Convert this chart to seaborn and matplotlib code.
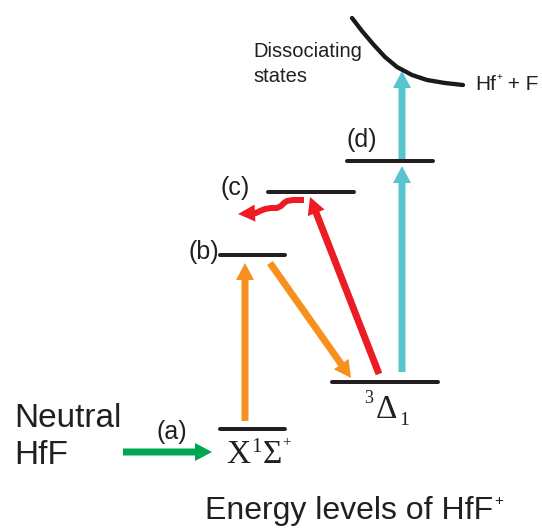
import numpy as np
import pandas as pd
import matplotlib
matplotlib.use("Agg")
import matplotlib.pyplot as plt
from matplotlib.patches import FancyArrowPatch
import seaborn as sns

# ---- data (positions in image coordinates, y grows downward = lower energy) ----
level_names = ["X", "b", "c", "d", "Delta"]
level_y = [429, 255, 192, 161, 382]
level_x0 = [220, 220, 268, 347, 332]
level_x1 = [285, 285, 354, 433, 438]

curve_x = [352, 362, 373, 385, 397, 412, 427, 445, 463]
curve_y = [18, 31, 44, 57, 67, 75, 80, 83, 85]

wave_x = [304, 293, 287, 284, 281, 277, 271, 265, 260, 256]
wave_y = [200, 200, 201, 203, 206, 208, 208, 209, 211, 213]
wave_tip = (238, 214)

arrow_names = ["green", "orange_up", "orange_diag", "red", "cyan_low", "cyan_high"]
arrow_start = [(123, 452), (245, 421), (270, 263), (379, 374), (402, 372), (402, 161)]
arrow_end = [(212, 452), (245, 263), (351, 378), (310, 197), (402, 166), (402, 71)]
arrow_colors = ["#00A651", "#F7901E", "#F7901E", "#ED1C24", "#56C5D0", "#56C5D0"]

labels = ["(a)", "(b)", "(c)", "(d)"]
label_xy = [(157, 432), (188, 252), (220, 188), (347, 140)]

sns.set_style("white")
plt.rcParams["font.family"] = ["Liberation Sans", "DejaVu Sans"]

fig = plt.figure(figsize=(5.42, 5.29), dpi=100)
ax = fig.add_axes([0, 0, 1, 1])

PX = 0.72  # px -> pt at 100 dpi
def arrow(p0, p1, color, tw=7, hw=18, hl=17, z=2):
    st = f"simple,head_length={hl*PX},head_width={hw*PX},tail_width={tw*PX}"
    a = FancyArrowPatch(p0, p1, arrowstyle=st, mutation_scale=1, color=color,
                        lw=0, shrinkA=0, shrinkB=0, zorder=z)
    ax.add_patch(a)

for s, e, c in zip(arrow_start, arrow_end, arrow_colors):
    arrow(s, e, c)

# wavy red arrow
ax.plot(wave_x, wave_y, color="#ED1C24", lw=6 * PX, solid_capstyle="butt",
        solid_joinstyle="round", zorder=2)
arrow((wave_x[-1] + 1, wave_y[-1]), wave_tip, "#ED1C24", tw=6, hw=17, hl=17)

# energy levels via seaborn
rows = []
for n, y, x0, x1 in zip(level_names, level_y, level_x0, level_x1):
    rows.append({"level": n, "x": x0, "y": y})
    rows.append({"level": n, "x": x1, "y": y})
lv = pd.DataFrame(rows)
sns.lineplot(data=lv, x="x", y="y", units="level", estimator=None, color="#231F20",
             lw=4 * PX, ax=ax, sort=False, zorder=3)

# dissociating curve
cv = pd.DataFrame({"x": curve_x, "y": curve_y})
sns.lineplot(data=cv, x="x", y="y", color="#1a1a1a", lw=4.3 * PX, ax=ax, sort=False,
             estimator=None, zorder=3)
ax.set_xlim(0, 542)
ax.set_ylim(529, 0)
ax.axis("off")

tc = "#231F20"
renderer = fig.canvas.get_renderer()

def seq(x, y, parts):
    """parts: list of (text, fontsize, dy, family, gap)"""
    for txt, fs, dy, fam, gap in parts:
        t = ax.text(x + gap, y + dy, txt, fontsize=fs, color=tc, ha="left",
                    va="baseline", family=fam)
        w = t.get_window_extent(renderer=renderer).width
        x = x + gap + w

sans = ["Liberation Sans", "DejaVu Sans"]
serif = ["Liberation Serif", "DejaVu Serif"]

for t, (x, y) in zip(labels, label_xy):
    ax.text(x, y, t, fontsize=18, color=tc, ha="left", va="center")

ax.text(14, 427, "Neutral", fontsize=24, color=tc, va="baseline")
ax.text(14, 464, "HfF", fontsize=24, color=tc, va="baseline")
ax.text(253, 57, "Dissociating", fontsize=14.5, color=tc, va="baseline")
ax.text(253, 82, "states", fontsize=14.5, color=tc, va="baseline")

seq(475, 90, [("Hf", 15, 0, sans, 0), ("+", 7, -10, sans, 0.5), (" + F", 15, 0, sans, 0)])
seq(205, 519, [("Energy levels of HfF", 23, 0, sans, 0), ("+", 11, -14, sans, 1)])

# X 1Sigma+
seq(226, 463, [("X", 24, 0, serif, 0), ("1", 15, -11, serif, 1),
               ("Σ", 24, 0, serif, 1), ("+", 11, -17, serif, 0)])
# 3Delta1
ax.text(364, 403, "3", fontsize=13, color=tc, va="baseline", family=serif)
ax.text(376, 418, "Δ", fontsize=24, color=tc, va="baseline", family=serif)
ax.text(399, 425, "1", fontsize=14, color=tc, va="baseline", family=serif)

fig.savefig("out.png", dpi=100)
